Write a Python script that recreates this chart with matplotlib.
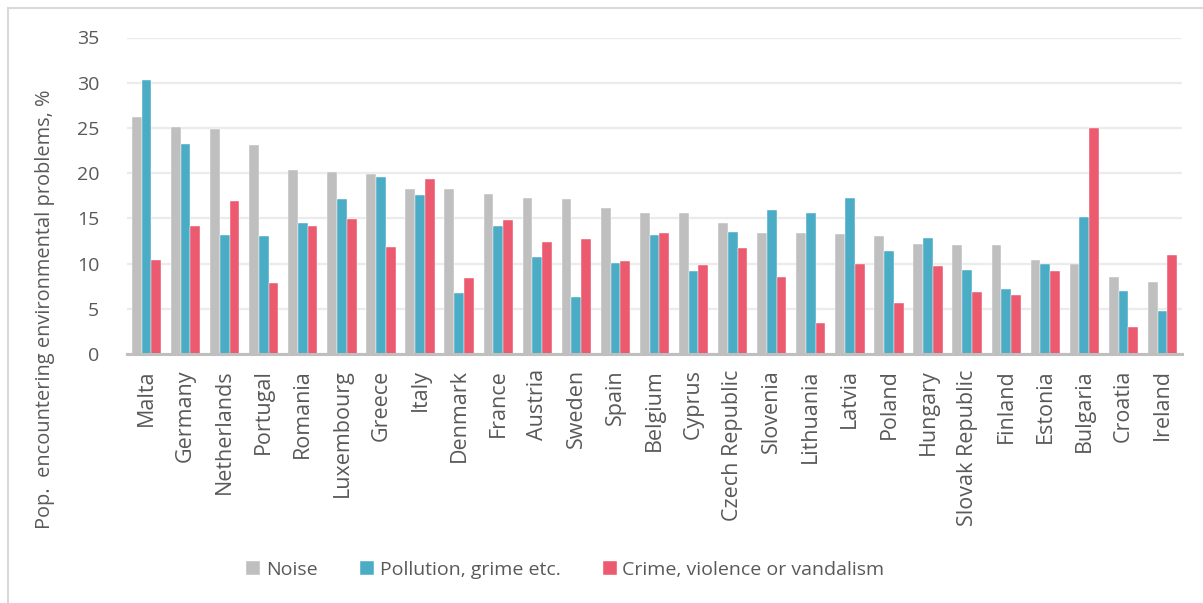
import matplotlib.pyplot as plt
import numpy as np
from matplotlib.lines import Line2D

COUNTRIES = [
    "Malta", "Germany", "Netherlands", "Portugal", "Romania", "Luxembourg",
    "Greece", "Italy", "Denmark", "France", "Austria", "Sweden", "Spain",
    "Belgium", "Cyprus", "Czech Republic", "Slovenia", "Lithuania", "Latvia",
    "Poland", "Hungary", "Slovak Republic", "Finland", "Estonia", "Bulgaria",
    "Croatia", "Ireland",
]
NOISE = [26.2, 25.1, 24.9, 23.1, 20.3, 20.1, 19.9, 18.3, 18.2, 17.7, 17.3,
         17.1, 16.2, 15.6, 15.6, 14.5, 13.4, 13.4, 13.3, 13.0, 12.2, 12.1,
         12.0, 10.4, 10.0, 8.5, 8.0]
POLLUTION = [30.3, 23.2, 13.2, 13.1, 14.5, 17.1, 19.6, 17.6, 6.8, 14.1, 10.7,
             6.3, 10.1, 13.2, 9.2, 13.5, 15.9, 15.6, 17.2, 11.4, 12.8, 9.3,
             7.2, 9.9, 15.1, 7.0, 4.7]
CRIME = [10.4, 14.1, 16.9, 7.8, 14.1, 14.9, 11.8, 19.4, 8.4, 14.8, 12.4,
         12.7, 10.3, 13.4, 9.8, 11.7, 8.5, 3.4, 10.0, 5.6, 9.7, 6.9, 6.5,
         9.2, 25.0, 3.0, 11.0]
SERIES = ["Noise", "Pollution, grime etc.", "Crime, violence or vandalism"]
COLORS = ["#BFBFBF", "#4BACC6", "#EB5A6E"]
YTICKS = [0, 5, 10, 15, 20, 25, 30, 35]

TEXT = "#595959"
plt.rcParams["font.family"] = ["Open Sans", "DejaVu Sans"]

fig = plt.figure(figsize=(12.03, 6.03), dpi=100, facecolor="white")
ax = fig.add_axes([127 / 1203, 1 - 354 / 603, (1182 - 127) / 1203, (354 - 37.5) / 603])

x = np.arange(len(COUNTRIES))
w = 0.25
for i, (vals, lab, col) in enumerate(zip([NOISE, POLLUTION, CRIME], SERIES, COLORS)):
    ax.bar(x + (i - 1) * w, vals, width=w, color=col, label=lab, zorder=3,
           edgecolor="white", linewidth=0.3)

ax.set_xlim(-0.5, len(COUNTRIES) - 0.5)
ax.set_ylim(0, 35)
ax.set_yticks(YTICKS)
ax.set_xticks(x)
ax.set_xticklabels(COUNTRIES, rotation=90, fontsize=15.5, color=TEXT)
ax.tick_params(axis="y", labelsize=14, colors=TEXT, length=0, pad=20)
ax.tick_params(axis="x", length=0, pad=11)
ax.grid(axis="y", color="#EBEBEB", linewidth=1.6, zorder=0)
for s in ["top", "right", "left"]:
    ax.spines[s].set_visible(False)
ax.spines["bottom"].set_color("#BFBFBF")
ax.spines["bottom"].set_linewidth(2.2)
ax.spines["bottom"].set_zorder(4)

fig.text(45 / 1203, 1 - 309 / 603, "Pop.  encountering environmental problems, %",
         rotation=90, ha="center", va="center", fontsize=14.4, color=TEXT)

fig.legend(loc="center", bbox_to_anchor=(0.47, 1 - 570 / 603), ncol=3,
           frameon=False, fontsize=14, handlelength=0.7, handleheight=0.7,
           handletextpad=0.3, columnspacing=2.2, labelcolor=TEXT)

# outer chart frame (top and left edges visible)
fig.add_artist(Line2D([8 / 1203, 8 / 1203], [0, 1 - 8 / 603], transform=fig.transFigure,
                      color="#D9D9D9", linewidth=1.5))
fig.add_artist(Line2D([8 / 1203, 1], [1 - 8 / 603, 1 - 8 / 603], transform=fig.transFigure,
                      color="#D9D9D9", linewidth=1.5))

fig.savefig("out.png", dpi=100, facecolor="white")
